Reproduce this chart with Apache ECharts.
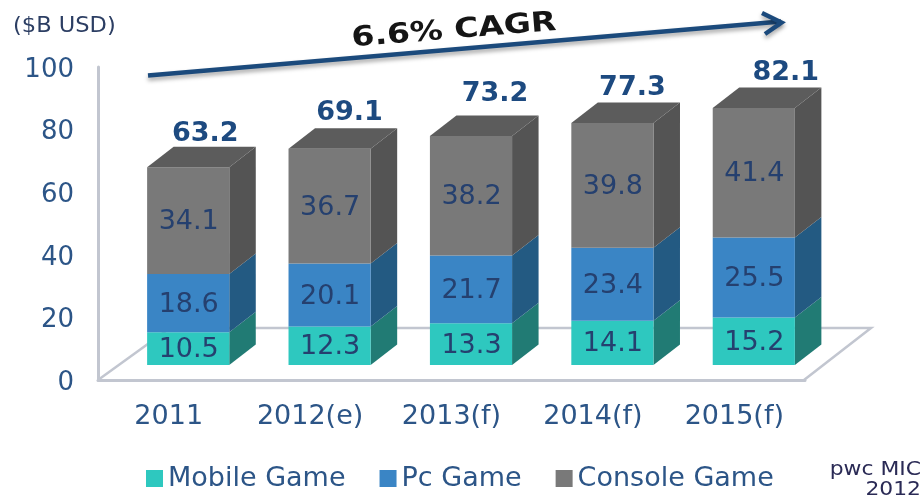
<!DOCTYPE html>
<html>
<head>
<meta charset="utf-8">
<style>html,body{margin:0;padding:0;background:#fff}#c{width:923px;height:499px}</style>
<script src="https://cdn.jsdelivr.net/npm/echarts@6/dist/echarts.min.js"></script>
</head>
<body>
<div id="c"></div>
<script>
const categories = ['2011', '2012(e)', '2013(f)', '2014(f)', '2015(f)'];
const mobileGame = [10.5, 12.3, 13.3, 14.1, 15.2];
const pcGame = [18.6, 20.1, 21.7, 23.4, 25.5];
const consoleGame = [34.1, 36.7, 38.2, 39.8, 41.4];
const totals = ['63.2', '69.1', '73.2', '77.3', '82.1'];
const yTicks = { min: 0, max: 100, interval: 20 };

// presentation
const FONT = '"DejaVu Sans", Verdana, sans-serif';
const TEXT = '#2c5587', DATA = '#25406f', TOTAL = '#1d4a80', AXIS = '#c2c6d0';
const SHIFT_X = 19.5, SHIFT_Y = -15, DEPTH_X = 26.5, DEPTH_Y = -20.5, BAR_RATIO = 0.581;
const totalNudge = [[17, -13], [20, -15], [24, -21], [20, -15], [32, -15]];

function seriesFor(name, values, bases, front, side, isTop) {
  return {
    name, type: 'custom', z: 5,
    coordinateSystem: 'cartesian2d',
    itemStyle: { color: front },
    encode: { x: 0, y: 1 },
    data: values.map((v, i) => [i, v, bases[i]]),
    clip: false,
    renderItem(params, api) {
      const i = api.value(0), val = api.value(1), base = api.value(2);
      const lo = api.coord([i, base]), hi = api.coord([i, base + val]);
      const w = api.size([1, 0])[0] * BAR_RATIO;
      const x0 = lo[0] + SHIFT_X - w / 2, x1 = x0 + w;
      const y0 = lo[1] + SHIFT_Y, y1 = hi[1] + SHIFT_Y;
      const kids = [
        { type: 'polygon', shape: { points: [[x1, y0], [x1 + DEPTH_X, y0 + DEPTH_Y], [x1 + DEPTH_X, y1 + DEPTH_Y], [x1, y1]] }, style: { fill: side } },
        { type: 'rect', shape: { x: x0, y: y1, width: w, height: y0 - y1 }, style: { fill: front } },
        { type: 'text', style: { text: val.toFixed(1), x: (x0 + x1) / 2 + 0.5, y: (y0 + y1) / 2 + 1.5, align: 'center', verticalAlign: 'middle', fill: DATA, font: '27px ' + FONT } }
      ];
      if (isTop) {
        kids.push({ type: 'polygon', shape: { points: [[x0, y1], [x0 + DEPTH_X, y1 + DEPTH_Y], [x1 + DEPTH_X, y1 + DEPTH_Y], [x1, y1]] }, style: { fill: '#5c5c5c' } });
        const n = totalNudge[i];
        kids.push({ type: 'text', style: { text: totals[i], x: (x0 + x1) / 2 + n[0], y: y1 + DEPTH_Y + n[1], align: 'center', verticalAlign: 'middle', fill: TOTAL, font: 'bold 27px ' + FONT } });
      }
      return { type: 'group', children: kids };
    }
  };
}

const pcBase = mobileGame;
const consoleBase = mobileGame.map((v, i) => v + pcGame[i]);
const chart = echarts.init(document.getElementById('c'), null, { renderer: 'canvas' });
const arrowStyle = { stroke: '#1b4a7c', lineWidth: 4.5, fill: 'none', shadowColor: 'rgba(0,0,0,0.35)', shadowBlur: 4, shadowOffsetY: 3 };
chart.setOption({
  animation: false,
  backgroundColor: '#fff',
  grid: { left: 98, right: 118, top: 67, bottom: 119 },
  xAxis: {
    type: 'category', data: categories,
    axisLine: { lineStyle: { color: AXIS, width: 3 } },
    axisTick: { show: false },
    axisLabel: { color: TEXT, fontFamily: FONT, fontSize: 27, margin: 23 }
  },
  yAxis: {
    type: 'value', min: yTicks.min, max: yTicks.max, interval: yTicks.interval,
    axisLine: { show: true, lineStyle: { color: AXIS, width: 3 } },
    axisTick: { show: false },
    splitLine: { show: false },
    axisLabel: { color: TEXT, fontFamily: FONT, fontSize: 26, margin: 24, verticalAlign: 'top', lineHeight: 6 }
  },
  legend: {
    left: 141, top: 460, icon: 'rect', itemWidth: 17, itemHeight: 17, itemGap: 34,
    textStyle: { color: TEXT, fontFamily: FONT, fontSize: 27 },
    data: ['Mobile Game', 'Pc Game', 'Console Game']
  },
  series: [
    seriesFor('Mobile Game', mobileGame, mobileGame.map(() => 0), '#2ec8bf', '#217b74', false),
    seriesFor('Pc Game', pcGame, pcBase, '#3a85c5', '#235a82', false),
    seriesFor('Console Game', consoleGame, consoleBase, '#797979', '#545454', true)
  ],
  graphic: [
    { type: 'polyline', z: 1, shape: { points: [[98, 380], [170, 328], [871, 328], [804, 380]] }, style: { fill: 'none', stroke: AXIS, lineWidth: 2.5 } },
    { type: 'polyline', z: 10, shape: { points: [[148, 75.5], [781, 21.5]] }, style: arrowStyle },
    { type: 'polyline', z: 10, shape: { points: [[762, 13], [781.5, 22.5], [765, 34]] }, style: arrowStyle },
    { type: 'text', z: 11, x: 454, y: 31, rotation: 4.6 * Math.PI / 180, scaleX: 1.2,
      style: { text: '6.6% CAGR', x: 0, y: 0, align: 'center', verticalAlign: 'middle', fill: '#151515', font: 'bold 27.5px ' + FONT } },
    { type: 'text', z: 11, x: 13, y: 27, scaleX: 1.1, style: { text: '($B USD)', x: 0, y: 0, verticalAlign: 'middle', fill: '#2c3e63', font: '20.5px ' + FONT } },
    { type: 'text', z: 11, x: 921, y: 470, scaleX: 1.15, style: { text: 'pwc MIC', x: 0, y: 0, align: 'right', verticalAlign: 'middle', fill: '#2a2a55', font: '19px ' + FONT } },
    { type: 'text', z: 11, x: 921, y: 490, scaleX: 1.15, style: { text: '2012', x: 0, y: 0, align: 'right', verticalAlign: 'middle', fill: '#2a2a55', font: '19px ' + FONT } }
  ]
});
</script>
</body>
</html>
